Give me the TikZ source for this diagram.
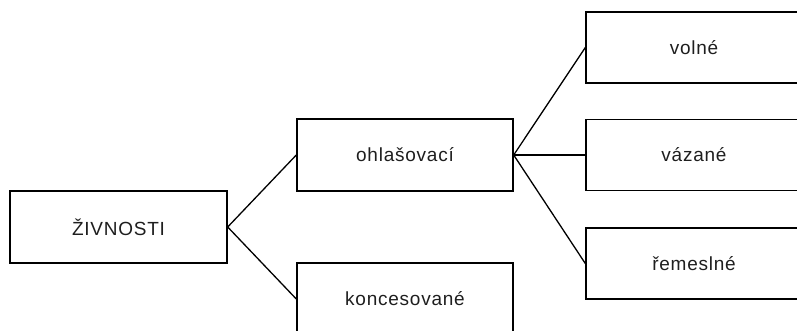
\documentclass[tikz,border=0pt]{standalone}
\usepackage{fontspec}
\setmainfont{Liberation Sans}[LetterSpace=4]
\usepackage{xcolor}
\usetikzlibrary{shapes, positioning}
\definecolor{textgray}{RGB}{30,30,30}

\begin{document}
\begin{tikzpicture}[x=1pt, y=-1pt,
    box/.style={draw, line width=1.4pt, minimum width=216pt, minimum height=72pt,
      inner sep=0pt, text=textgray, font=\fontsize{19}{23}\selectfont},
    link/.style={line width=1.3pt}]
        \useasboundingbox (0,0) rectangle (797,331);
        \node[box, minimum width=217pt] (zivnosti) at (118.5,227) {ŽIVNOSTI};
        \node[box] (ohlasovaci) at (405,155) {ohlašovací};
        \node[box] (koncesovane) at (405,299) {koncesované};
        \node[box, minimum height=71pt] (volne) at (694,47.5) {volné};
        \node[box, minimum height=71pt] (vazane) at (694,155) {vázané};
        \node[box, minimum height=71pt] (remeslne) at (694,263.5) {řemeslné};

        \draw[link] (zivnosti.east) -- (ohlasovaci.west);
        \draw[link] (zivnosti.east) -- (koncesovane.west);
        \draw[link] (ohlasovaci.east) -- (volne.west);
        \draw[link] (ohlasovaci.east) -- (vazane.west);
        \draw[link] (ohlasovaci.east) -- (remeslne.west);
      \end{tikzpicture}
\end{document}
